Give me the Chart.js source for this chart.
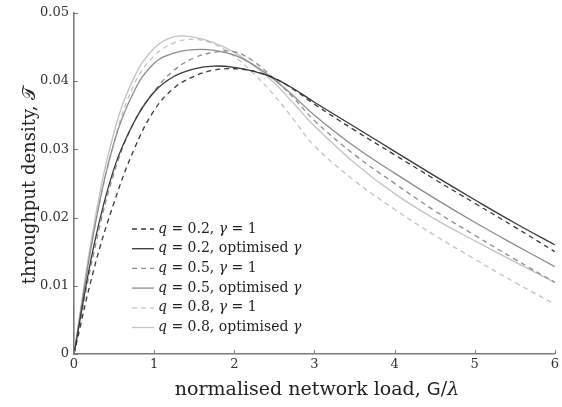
<!DOCTYPE html>
<html>
<head>
<meta charset="utf-8">
<script src="https://cdn.jsdelivr.net/npm/chart.js@4.4.1/dist/chart.umd.min.js"></script>
<style>
  html, body { margin: 0; padding: 0; background: #fff; }
  #wrap { width: 562px; height: 407px; }
</style>
</head>
<body>
<div id="wrap"><canvas id="chart"></canvas></div>
<script>
// normalised network load G/lambda
const loads = [0, 0.25, 0.5, 0.75, 1, 1.25, 1.5, 1.75, 2, 2.25, 2.5, 2.75, 3, 3.5, 4, 4.5, 5, 5.5, 6];

// throughput density
const q02Unit = [0, 0.0125, 0.0222, 0.0300, 0.0357, 0.0390, 0.0407, 0.0416, 0.0418, 0.0414, 0.0404, 0.0387, 0.0366, 0.0328, 0.0292, 0.0256, 0.0221, 0.0186, 0.0150];
const q02Opt  = [0, 0.0160, 0.0272, 0.0340, 0.0384, 0.0407, 0.0418, 0.0422, 0.0420, 0.0414, 0.0404, 0.0388, 0.0369, 0.0333, 0.0297, 0.0261, 0.0226, 0.0192, 0.0160];
const q05Unit = [0, 0.0150, 0.0265, 0.0340, 0.0385, 0.0416, 0.0434, 0.0442, 0.0443, 0.0428, 0.0403, 0.0374, 0.0342, 0.0292, 0.0250, 0.0210, 0.0174, 0.0139, 0.0105];
const q05Opt  = [0, 0.0180, 0.0310, 0.0385, 0.0426, 0.0441, 0.0446, 0.0445, 0.0438, 0.0423, 0.0402, 0.0377, 0.0350, 0.0304, 0.0265, 0.0228, 0.0193, 0.0160, 0.0128];
const q08Unit = [0, 0.0180, 0.0310, 0.0395, 0.0437, 0.0456, 0.0461, 0.0454, 0.0436, 0.0410, 0.0379, 0.0342, 0.0305, 0.0254, 0.0212, 0.0174, 0.0139, 0.0105, 0.0073];
const q08Opt  = [0, 0.0190, 0.0325, 0.0405, 0.0448, 0.0465, 0.0464, 0.0456, 0.0442, 0.0422, 0.0397, 0.0366, 0.0334, 0.0280, 0.0235, 0.0198, 0.0166, 0.0135, 0.0105];

const legendLabels = [
  "q = 0.2, γ = 1",
  "q = 0.2, optimised γ",
  "q = 0.5, γ = 1",
  "q = 0.5, optimised γ",
  "q = 0.8, γ = 1",
  "q = 0.8, optimised γ",
];
const xTicks = [0, 1, 2, 3, 4, 5, 6];
const yTicks = [0, 0.01, 0.02, 0.03, 0.04, 0.05];

const SERIF = "'DejaVu Serif', 'Liberation Serif', serif";
const DARK = "#383838", MID = "#8c8c8c", LIGHT = "#c2c2c2";
const DASH = [5, 4];

function series(label, values, color, dashed) {
  return {
    label: label,
    data: values.map((v, i) => ({ x: loads[i], y: v })),
    borderColor: color,
    borderWidth: 1.3,
    borderDash: dashed ? DASH : [],
    pointRadius: 0,
    fill: false,
    tension: 0.4,
  };
}

// draw text where q, γ, λ are italic
function mixedText(ctx, str, x, y, size) {
  let cx = x;
  for (const ch of str) {
    const it = ch === "q" || ch === "γ" || ch === "λ";
    ctx.font = (it ? "italic " : "") + size + "px " + SERIF;
    ctx.fillText(ch, cx, y);
    cx += ctx.measureText(ch).width;
  }
  return cx - x;
}

const decorations = {
  id: "decorations",
  afterDraw(chart) {
    const ctx = chart.ctx;
    const xs = chart.scales.x, ys = chart.scales.y;
    ctx.save();
    // inward ticks
    ctx.strokeStyle = "#7a7a7a";
    ctx.lineWidth = 1;
    xTicks.forEach((t) => {
      const px = Math.round(xs.getPixelForValue(t)) + 0.5;
      ctx.beginPath();
      ctx.moveTo(px, ys.bottom);
      ctx.lineTo(px, ys.bottom - 4);
      ctx.stroke();
    });
    yTicks.forEach((t) => {
      const py = Math.round(ys.getPixelForValue(t)) + 0.5;
      ctx.beginPath();
      ctx.moveTo(xs.left, py);
      ctx.lineTo(xs.left + 4, py);
      ctx.stroke();
    });

    // legend
    ctx.fillStyle = "#222";
    ctx.textBaseline = "middle";
    ctx.textAlign = "left";
    chart.data.datasets.forEach((ds, i) => {
      const y = 229 + i * 19.7;
      ctx.strokeStyle = ds.borderColor;
      ctx.lineWidth = 1.3;
      ctx.setLineDash(ds.borderDash);
      ctx.beginPath();
      ctx.moveTo(132, y);
      ctx.lineTo(154, y);
      ctx.stroke();
      ctx.setLineDash([]);
      mixedText(ctx, legendLabels[i], 158, y, 14);
    });

    // x title
    ctx.textBaseline = "alphabetic";
    const xTitle = "normalised network load, ";
    const fs = 19;
    ctx.font = fs + "px " + SERIF;
    let w = ctx.measureText(xTitle).width;
    ctx.font = (fs - 1) + "px 'DejaVu Sans', sans-serif";
    w += ctx.measureText("G").width;
    ctx.font = fs + "px " + SERIF;
    w += ctx.measureText("/").width;
    ctx.font = "italic " + fs + "px " + SERIF;
    w += ctx.measureText("λ").width;
    let x0 = 317 - w / 2;
    const by = 395;
    ctx.font = fs + "px " + SERIF;
    ctx.fillText(xTitle, x0, by);
    x0 += ctx.measureText(xTitle).width;
    ctx.font = (fs - 1) + "px 'DejaVu Sans', sans-serif";
    ctx.fillText("G", x0, by);
    x0 += ctx.measureText("G").width;
    ctx.font = fs + "px " + SERIF;
    ctx.fillText("/", x0, by);
    x0 += ctx.measureText("/").width;
    ctx.font = "italic " + fs + "px " + SERIF;
    ctx.fillText("λ", x0, by);

    // y title
    ctx.translate(35, 185);
    ctx.rotate(-Math.PI / 2);
    ctx.textAlign = "center";
    ctx.font = "18px " + SERIF;
    ctx.fillText("throughput density, 𝒯", 0, 0);
    ctx.restore();
  },
};

new Chart(document.getElementById("chart"), {
  type: "line",
  data: {
    datasets: [
      series(legendLabels[0], q02Unit, DARK, true),
      series(legendLabels[1], q02Opt, DARK, false),
      series(legendLabels[2], q05Unit, MID, true),
      series(legendLabels[3], q05Opt, MID, false),
      series(legendLabels[4], q08Unit, LIGHT, true),
      series(legendLabels[5], q08Opt, LIGHT, false),
    ],
  },
  options: {
    responsive: true,
    maintainAspectRatio: false,
    animation: false,
    layout: { padding: { top: 12, right: 6, left: 0, bottom: 0 } },
    plugins: { legend: { display: false }, tooltip: { enabled: false } },
    scales: {
      x: {
        type: "linear",
        min: 0,
        max: 6,
        afterFit(scale) { scale.height = 53; },
        afterBuildTicks(scale) { scale.ticks = xTicks.map((v) => ({ value: v })); },
        grid: { display: false, drawTicks: false },
        border: { display: true, color: "#7a7a7a", width: 1.6 },
        ticks: {
          padding: 3,
          color: "#333",
          font: { family: SERIF, size: 13 },
          maxRotation: 0,
          callback: (v) => String(v),
        },
      },
      y: {
        min: 0,
        max: 0.05,
        afterFit(scale) { scale.width = 74; },
        afterBuildTicks(scale) { scale.ticks = yTicks.map((v) => ({ value: v })); },
        grid: { display: false, drawTicks: false },
        border: { display: true, color: "#7a7a7a", width: 1.6 },
        ticks: {
          padding: 5,
          color: "#333",
          font: { family: SERIF, size: 13 },
          callback: (v) => (v === 0 ? "0" : v.toFixed(2)),
        },
      },
    },
  },
  plugins: [decorations],
});
</script>
</body>
</html>
